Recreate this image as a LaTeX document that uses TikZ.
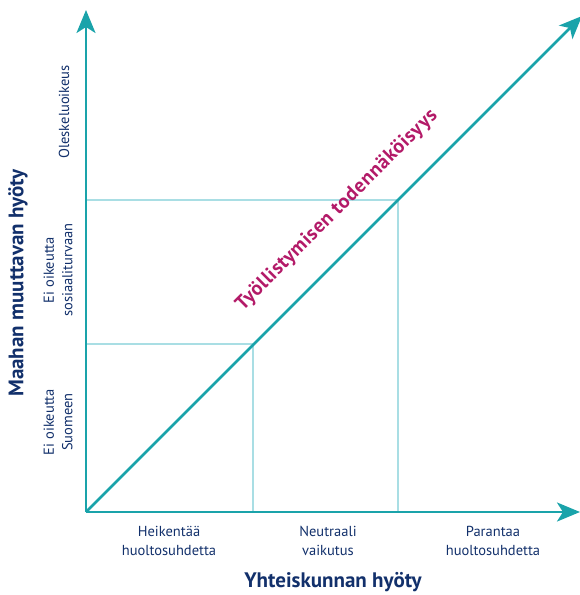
\documentclass[tikz,border=0pt]{standalone}
\usepackage{fontspec}
\setmainfont{PT Sans}
\newfontfamily\magfont[LetterSpace=3]{PT Sans}
\usetikzlibrary{arrows.meta}
\definecolor{teal1}{HTML}{1AA3AA}
\definecolor{gridc}{HTML}{A9DEE4}
\definecolor{navy}{HTML}{12306B}
\definecolor{mag}{HTML}{B31A68}
\tikzset{
  axis/.style={teal1, line width=2.6pt, -{Stealth[length=23pt,width=19pt,inset=6pt]}},
  gridl/.style={gridc, line width=1.8pt},
  small/.style={navy, font=\fontsize{14.5}{18.5}\selectfont, align=center, inner sep=0pt},
  big/.style={navy, font=\fontsize{21}{24}\selectfont\bfseries, inner sep=0pt},
}
\begin{document}
\begin{tikzpicture}[x=1pt,y=-1pt]
\useasboundingbox (0,0) rectangle (580,595);
\coordinate (O) at (86,512);
\coordinate (ytip) at (86,10);
\coordinate (xtip) at (580,512);
\coordinate (dtip) at (582,16);
\coordinate (A) at (253,344);
\coordinate (B) at (398,200);
\coordinate (Ay) at (86,344);
\coordinate (Ax) at (253,512);
\coordinate (By) at (86,200);
\coordinate (Bx) at (398,512);
% grid
\draw[gridl] (Ay) -- (A) -- (Ax);
\draw[gridl] (By) -- (B) -- (Bx);
% axes
\draw[axis] (O) -- (ytip);
\draw[axis] (O) -- (xtip);
\draw[axis] (O) -- (dtip);
% diagonal label
\node[mag, font=\fontsize{20}{22}\selectfont\magfont\bfseries, rotate=45, inner sep=0pt] (dl) at (337,210) {Työllistymisen todennäköisyys};
% left labels
\node[small, rotate=90] (l1) at (64,112) {Oleskeluoikeus};
\node[small, rotate=90] (l2) at (58,270) {Ei oikeutta\\sosiaaliturvaan};
\node[small, rotate=90] (l3) at (58,422) {Ei oikeutta\\Suomeen};
\node[big, rotate=90] (ylab) at (18,283) {Maahan muuttavan hyöty};
% bottom labels
\node[small] (b1) at (169,541) {Heikentää\\huoltosuhdetta};
\node[small] (b2) at (328,541) {Neutraali\\vaikutus};
\node[small] (b3) at (493,541) {Parantaa\\huoltosuhdetta};
\node[big] (xlab) at (333,582) {Yhteiskunnan hyöty};
\end{tikzpicture}
\end{document}
